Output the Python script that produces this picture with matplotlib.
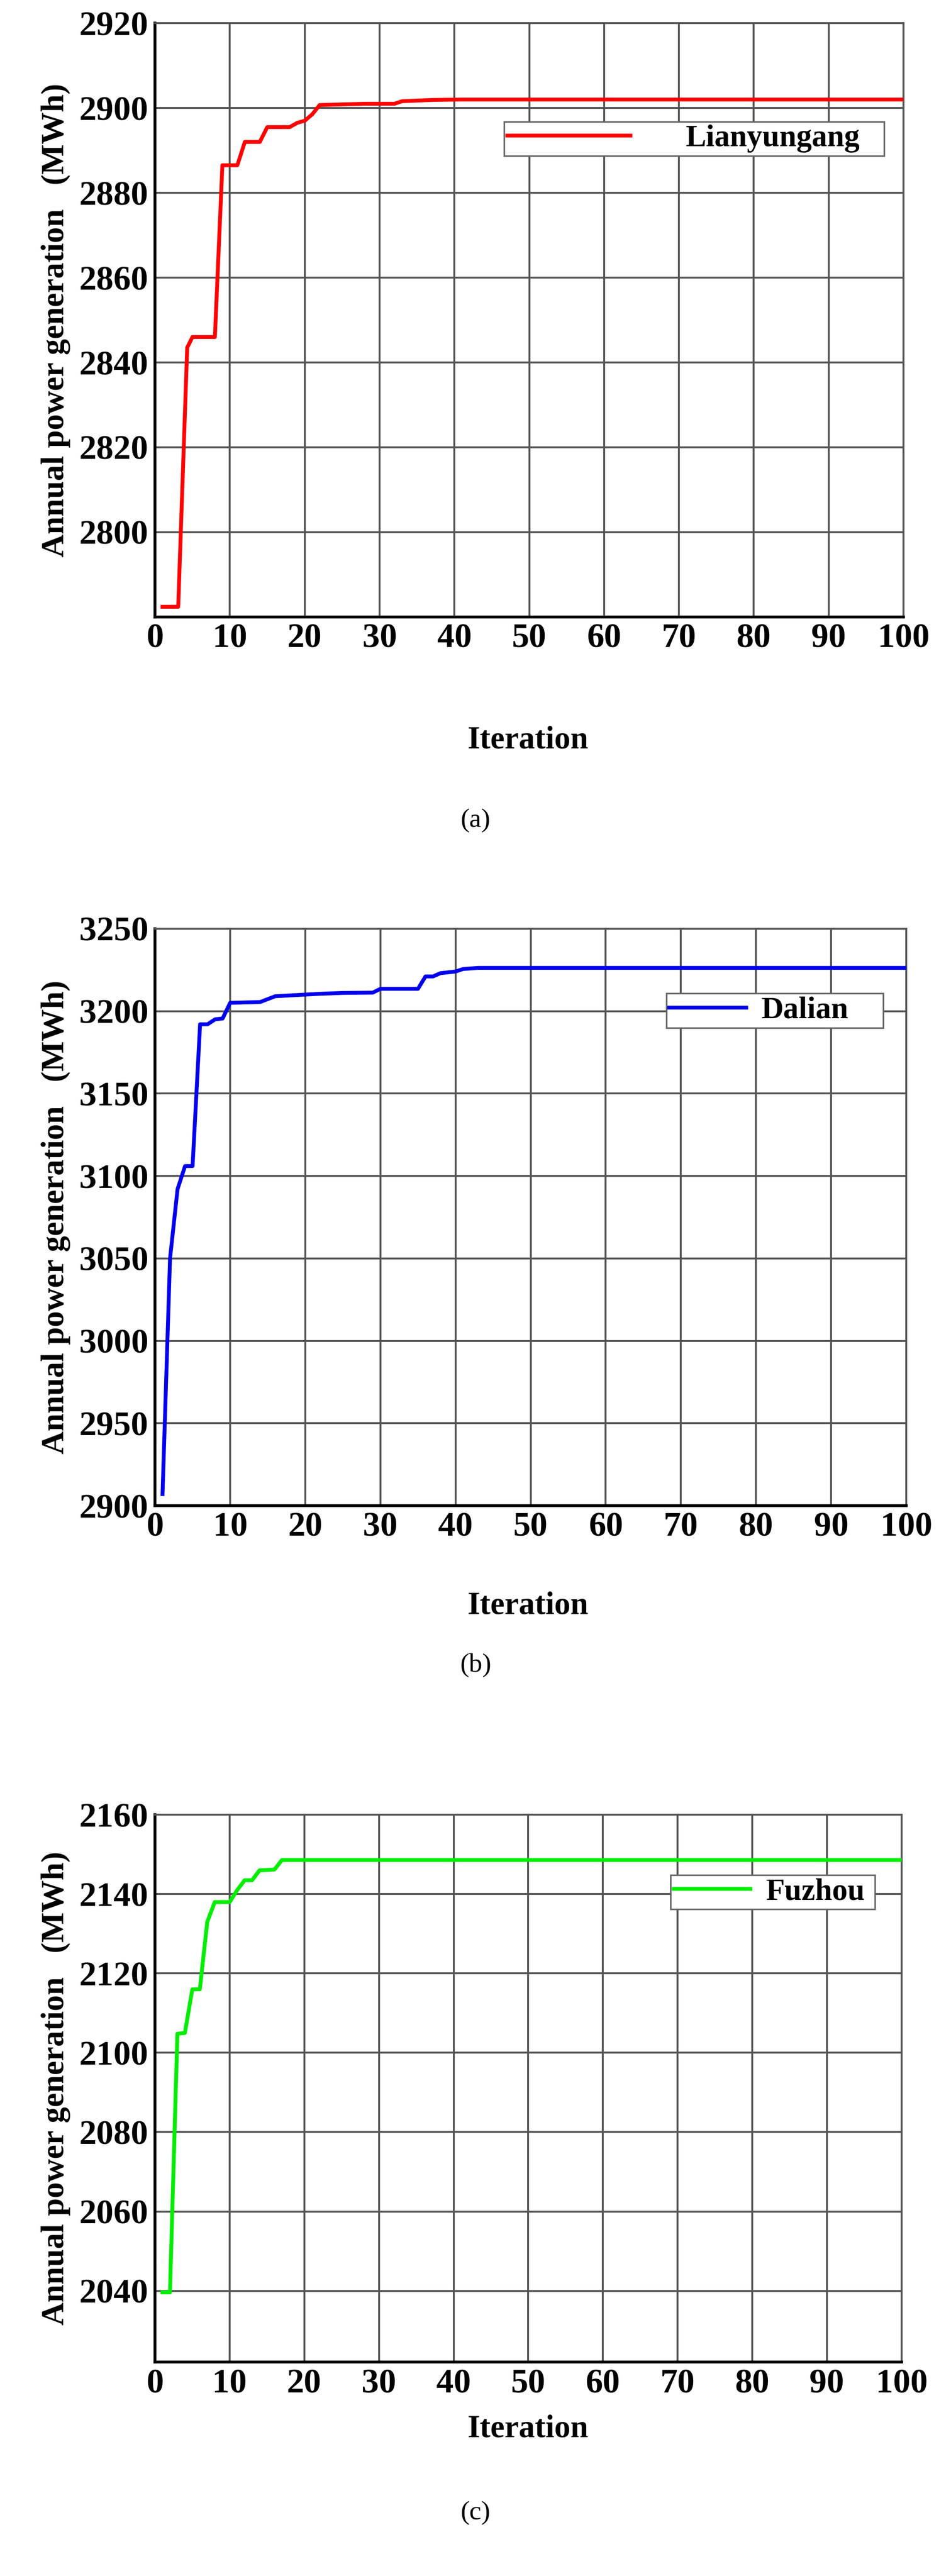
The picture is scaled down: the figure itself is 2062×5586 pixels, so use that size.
import matplotlib
matplotlib.use("Agg")
import matplotlib.pyplot as plt

iter_a = [1, 3.1, 4.3, 5, 8, 9, 11, 12, 14, 15, 18, 19, 20, 21, 22, 28, 32, 33, 37, 41, 100]
val_a = [2782.4, 2782.4, 2843.5, 2846, 2846, 2886.5, 2886.5, 2892, 2892, 2895.5, 2895.5, 2896.5, 2897, 2898.5, 2900.7, 2901, 2901, 2901.6, 2901.9, 2902, 2902]

iter_b = [1, 2, 3, 4, 5, 6, 7, 8, 9, 10, 14, 16, 20, 22, 25, 29, 30, 35, 36, 37, 38, 40, 41, 43, 100]
val_b = [2907, 3050, 3092, 3106, 3106, 3192, 3192, 3195, 3195.5, 3205, 3205.5, 3209, 3210, 3210.5, 3211, 3211.2, 3213.5, 3213.5, 3221, 3221, 3223, 3224, 3225.5, 3226.2, 3226.2]

iter_c = [1, 2, 3, 4, 5, 6, 7, 8, 10, 11, 12, 13, 14, 16, 17, 100]
val_c = [2039.6, 2039.6, 2104.8, 2105, 2116, 2116, 2133, 2138, 2138, 2141, 2143.5, 2143.5, 2146, 2146.2, 2148.6, 2148.6]

xticks = list(range(0, 101, 10))

fig = plt.figure(figsize=(20.62, 55.86), dpi=100)
FONT = "Liberation Serif"

panels = [
    dict(x=iter_a, y=val_a, color="#ff0000", name="Lianyungang", ylim=(2780, 2920),
         yticks=[2800, 2820, 2840, 2860, 2880, 2900, 2920], rect=[0.163, 0.7605, 0.787, 0.2305],
         leg=(0.446, 0.782, 0.549, 0.047), lab="(a)", laby=0.6815, xly=0.7125),
    dict(x=iter_b, y=val_b, color="#0000ee", name="Dalian", ylim=(2900, 3250),
         yticks=[2900, 2950, 3000, 3050, 3100, 3150, 3200, 3250], rect=[0.163, 0.4155, 0.79, 0.224],
         leg=(0.66, 0.834, 0.33, 0.048), lab="(b)", laby=0.3535, xly=0.3765),
    dict(x=iter_c, y=val_c, color="#00ee00", name="Fuzhou", ylim=(2022, 2160),
         yticks=[2040, 2060, 2080, 2100, 2120, 2140, 2160], rect=[0.163, 0.083, 0.785, 0.2125],
         leg=(0.67, 0.835, 0.315, 0.047), lab="(c)", laby=0.0245, xly=0.057),
]

for p in panels:
    ax = fig.add_axes(p["rect"])
    ax.plot(p["x"], p["y"], color=p["color"], lw=6, label=p["name"], zorder=3)
    ax.set_xlim(0, 100)
    ax.set_ylim(*p["ylim"])
    ax.set_xticks(xticks)
    ax.set_yticks(p["yticks"])
    ax.grid(True, color="#555555", lw=3)
    ax.tick_params(length=0, pad=10)
    for lbl in ax.get_xticklabels() + ax.get_yticklabels():
        lbl.set_fontfamily(FONT)
        lbl.set_fontweight("bold")
        lbl.set_fontsize(54)
    for s in ["left", "bottom"]:
        ax.spines[s].set_linewidth(4.5)
        ax.spines[s].set_color("black")
    for s in ["top", "right"]:
        ax.spines[s].set_linewidth(3)
        ax.spines[s].set_color("#555555")
    ax.set_ylabel("Annual power generation   (MWh)", fontfamily=FONT, fontweight="bold",
                  fontsize=50, labelpad=14)
    fig.text(0.555, p["xly"], "Iteration", ha="center", va="center", fontfamily=FONT,
             fontweight="bold", fontsize=50)
    fig.text(0.5, p["laby"], p["lab"], ha="center", va="center", fontfamily=FONT, fontsize=42)
    lg = ax.legend(loc="center", bbox_to_anchor=p["leg"], mode="expand", fancybox=False,
                   edgecolor="#666666", framealpha=1, handlelength=2.5 if p["name"] != "Lianyungang" else 4,
                   handletextpad=0.5 if p["name"] != "Lianyungang" else 1.8,
                   prop=dict(family=FONT, weight="bold", size=48), borderpad=0.1)
    lg.get_frame().set_linewidth(2.5)

fig.savefig("out.png", dpi=100, facecolor="white")
